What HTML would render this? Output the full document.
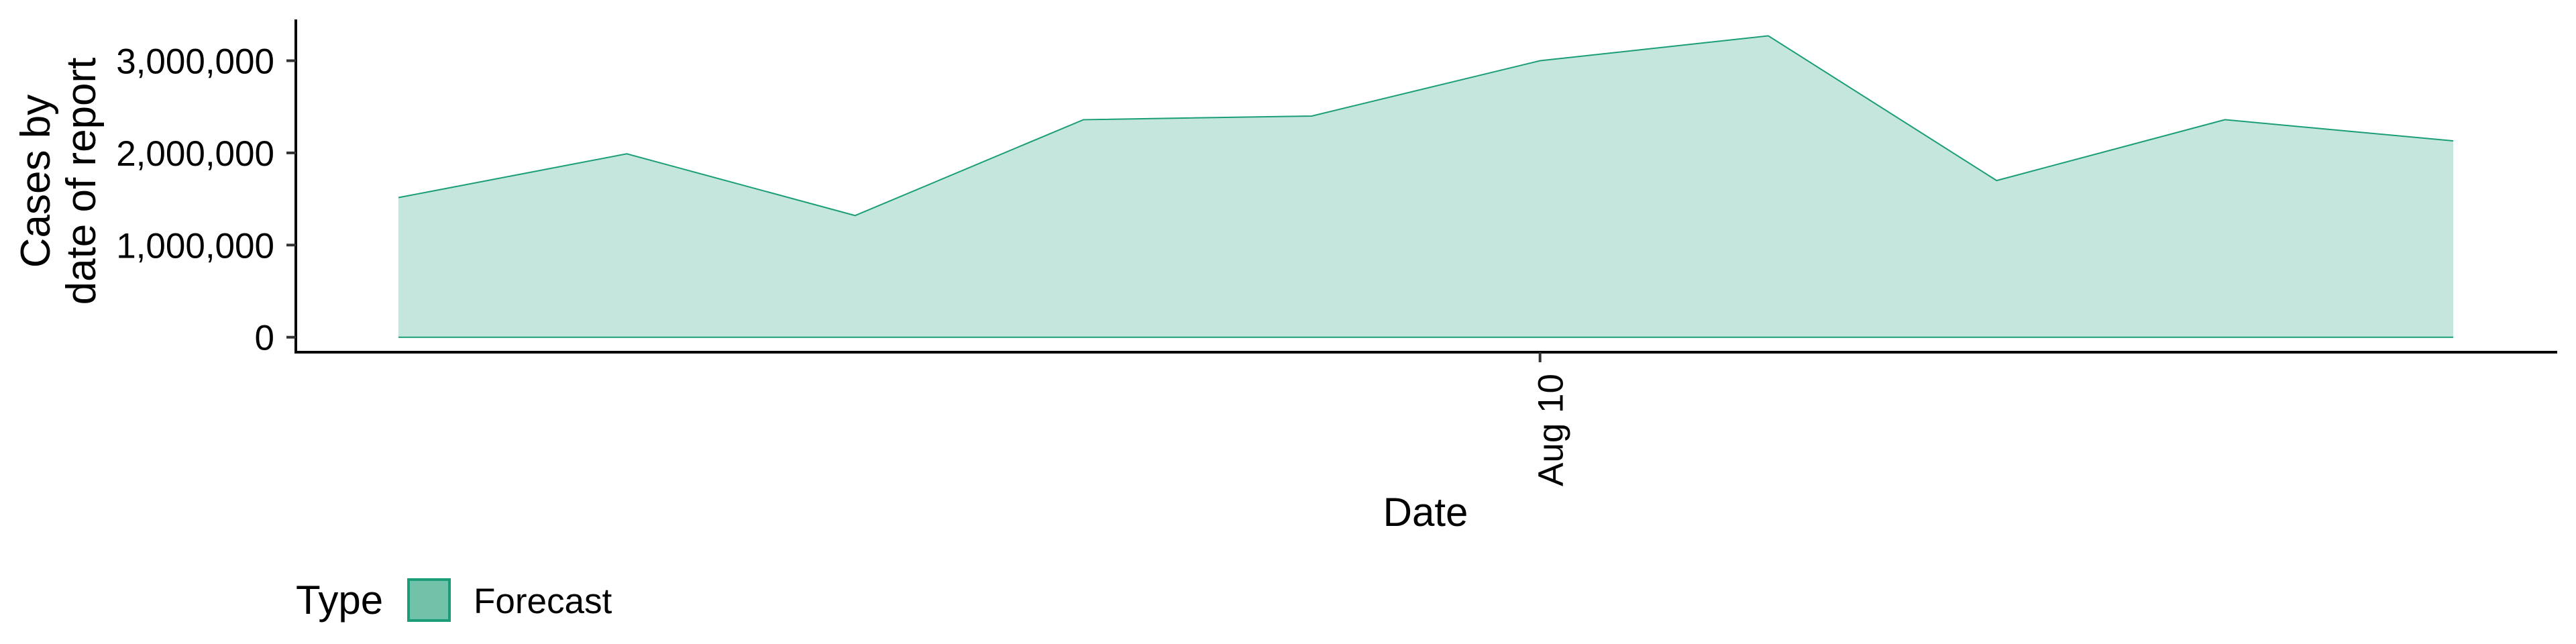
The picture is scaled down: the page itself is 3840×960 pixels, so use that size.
<!DOCTYPE html>
<html><head><meta charset="utf-8"><style>
html,body{margin:0;padding:0;background:#fff;}
svg{display:block;font-family:"Liberation Sans",sans-serif;}
</style></head><body>
<svg id="chart" width="3840" height="960" viewBox="0 0 3840 960">
<g id="plot"></g>
<line x1="441" y1="29" x2="441" y2="527" stroke="#000" stroke-width="4"/>
<line x1="439" y1="525" x2="3812" y2="525" stroke="#000" stroke-width="4"/>
<g id="yticks"></g>
<g id="xticks"></g>
<text transform="translate(142,270) rotate(-90)" text-anchor="middle" font-size="62"><tspan x="0" dy="-68">Cases by</tspan><tspan x="0" dy="68">date of report</tspan></text>
<text x="2125" y="784" text-anchor="middle" font-size="60">Date</text>
<g>
<text x="441" y="915" font-size="60">Type</text>
<rect x="609" y="864" width="61" height="61" fill="#71c2a9" stroke="#1b9e77" stroke-width="4"/>
<text x="706" y="914" font-size="53">Forecast</text>
</g>
</svg>
<script>
const dates = ["Aug 5","Aug 6","Aug 7","Aug 8","Aug 9","Aug 10","Aug 11","Aug 12","Aug 13","Aug 14"];
const cases = [1515000,1990000,1320000,2360000,2400000,3000000,3270000,1700000,2360000,2130000];
const yTicks = [0,1000000,2000000,3000000];
const yTickLabels = ["0","1,000,000","2,000,000","3,000,000"];
const xTickLabels = ["Aug 10"];

const NS="http://www.w3.org/2000/svg";
const x0=594, x1=3657, y0=502.7, yPerUnit=137.4/1000000;
function xScale(i){return x0+(x1-x0)*i/(dates.length-1);}
function yScale(v){return y0-v*yPerUnit;}

const plot=document.getElementById('plot');
let d="M"+xScale(0)+","+yScale(0);
cases.forEach((v,i)=>{d+=" L"+xScale(i)+","+yScale(v);});
d+=" L"+xScale(cases.length-1)+","+yScale(0)+" Z";
const area=document.createElementNS(NS,'path');
area.setAttribute('d',d);area.setAttribute('fill','#c4e6dc');


plot.appendChild(area);
let ld="";
cases.forEach((v,i)=>{ld+=(i?" L":"M")+xScale(i)+","+yScale(v);});
const line=document.createElementNS(NS,'path');
line.setAttribute('d',ld);line.setAttribute('fill','none');line.setAttribute('stroke','#1b9e77');line.setAttribute('stroke-width','2');


plot.appendChild(line);
const base=document.createElementNS(NS,'line');
base.setAttribute('x1',xScale(0));base.setAttribute('x2',xScale(cases.length-1));
base.setAttribute('y1',yScale(0));base.setAttribute('y2',yScale(0));
base.setAttribute('stroke','#1b9e77');base.setAttribute('stroke-width','2');


plot.appendChild(base);

const yt=document.getElementById('yticks');
yTicks.forEach((v,i)=>{
  const y=yScale(v);
  const t=document.createElementNS(NS,'line');
  t.setAttribute('x1',427);t.setAttribute('x2',441);t.setAttribute('y1',y);t.setAttribute('y2',y);
  t.setAttribute('stroke','#333');t.setAttribute('stroke-width','4');
  
  
  yt.appendChild(t);
  const l=document.createElementNS(NS,'text');
  l.setAttribute('x',409);l.setAttribute('y',y+19);l.setAttribute('text-anchor','end');l.setAttribute('font-size','53');
  l.textContent=yTickLabels[i];
  
  
  yt.appendChild(l);
});
const xt=document.getElementById('xticks');
xTickLabels.forEach(lab=>{
  const x=xScale(dates.indexOf(lab));
  const t=document.createElementNS(NS,'line');
  t.setAttribute('x1',x);t.setAttribute('x2',x);t.setAttribute('y1',525);t.setAttribute('y2',540);
  t.setAttribute('stroke','#333');t.setAttribute('stroke-width','4');
  
  
  xt.appendChild(t);
  const l=document.createElementNS(NS,'text');
  l.setAttribute('transform','translate('+(x+34)+',557) rotate(-90)');
  l.setAttribute('text-anchor','end');l.setAttribute('font-size','53');
  l.textContent=lab;
  
  
  xt.appendChild(l);
});
</script>
</body></html>
